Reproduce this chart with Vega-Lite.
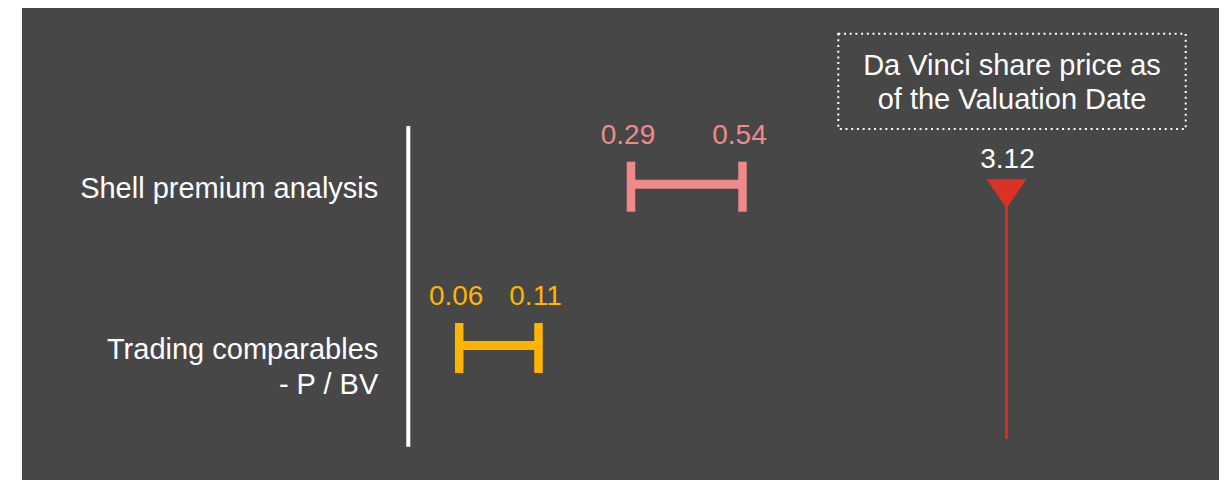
{
  "$schema": "https://vega.github.io/schema/vega-lite/v6.json",
  "width": 1197,
  "height": 472,
  "autosize": {"type": "none"},
  "padding": {"left": 22, "top": 8, "right": 6, "bottom": 0},
  "background": "white",
  "config": {
    "view": {"fill": "#474747", "stroke": null},
    "font": "Liberation Sans",
    "text": {"font": "Liberation Sans"}
  },
  "datasets": {
    "ranges": [
      {"method": "Shell premium analysis", "label": "Shell premium analysis", "low": 0.29, "high": 0.54},
      {"method": "Trading comparables - P / BV", "label": "Trading comparables\n- P / BV", "low": 0.06, "high": 0.11}
    ],
    "price": [
      {"method": "Shell premium analysis", "price": 3.12, "note": "Da Vinci share price as\nof the Valuation Date"}
    ]
  },
  "layer": [
    {
      "data": {"values": [{}]},
      "mark": {"type": "rule", "color": "white", "strokeWidth": 4, "yOffset": -60.7, "y2Offset": 98.7},
      "encoding": {
        "x": {"datum": 0, "type": "quantitative", "axis": null, "scale": {"type": "linear", "domain": [0, 0.06, 0.11, 0.29, 0.54, 3.12], "range": [386.3, 437.2, 516.5, 609, 720.5, 984.5], "zero": false, "nice": false}},
        "y": {"datum": "Shell premium analysis", "type": "nominal", "axis": null, "scale": {"type": "point", "domain": ["Shell premium analysis", "Trading comparables - P / BV"], "range": [178.7, 340], "padding": 0}},
        "y2": {"datum": "Trading comparables - P / BV"}
      }
    },
    {
      "data": {"name": "ranges"},
      "layer": [
        {
          "mark": {"type": "rule", "strokeWidth": 9, "strokeCap": "butt", "yOffset": -2.5},
          "encoding": {
            "x": {"field": "low", "type": "quantitative", "axis": null, "scale": {"type": "linear", "domain": [0, 0.06, 0.11, 0.29, 0.54, 3.12], "range": [386.3, 437.2, 516.5, 609, 720.5, 984.5], "zero": false, "nice": false}},
            "x2": {"field": "high"},
            "y": {"field": "method", "type": "nominal", "axis": null, "scale": {"type": "point", "domain": ["Shell premium analysis", "Trading comparables - P / BV"], "range": [178.7, 340], "padding": 0}},
            "color": {"field": "method", "type": "nominal", "legend": null, "scale": {"domain": ["Shell premium analysis", "Trading comparables - P / BV"], "range": ["#ee8a8a", "#ffb400"]}}
          }
        },
        {
          "mark": {"type": "tick", "size": 50, "thickness": 8.5, "opacity": 1},
          "encoding": {
            "x": {"field": "low", "type": "quantitative", "axis": null, "scale": {"type": "linear", "domain": [0, 0.06, 0.11, 0.29, 0.54, 3.12], "range": [386.3, 437.2, 516.5, 609, 720.5, 984.5], "zero": false, "nice": false}},
            "y": {"field": "method", "type": "nominal", "axis": null, "scale": {"type": "point", "domain": ["Shell premium analysis", "Trading comparables - P / BV"], "range": [178.7, 340], "padding": 0}},
            "color": {"field": "method", "type": "nominal", "legend": null, "scale": {"domain": ["Shell premium analysis", "Trading comparables - P / BV"], "range": ["#ee8a8a", "#ffb400"]}}
          }
        },
        {
          "mark": {"type": "tick", "size": 50, "thickness": 8.5, "opacity": 1},
          "encoding": {
            "x": {"field": "high", "type": "quantitative", "axis": null, "scale": {"type": "linear", "domain": [0, 0.06, 0.11, 0.29, 0.54, 3.12], "range": [386.3, 437.2, 516.5, 609, 720.5, 984.5], "zero": false, "nice": false}},
            "y": {"field": "method", "type": "nominal", "axis": null, "scale": {"type": "point", "domain": ["Shell premium analysis", "Trading comparables - P / BV"], "range": [178.7, 340], "padding": 0}},
            "color": {"field": "method", "type": "nominal", "legend": null, "scale": {"domain": ["Shell premium analysis", "Trading comparables - P / BV"], "range": ["#ee8a8a", "#ffb400"]}}
          }
        },
        {
          "mark": {"type": "text", "fontSize": 28, "align": "center", "baseline": "alphabetic", "dy": -43, "dx": -3},
          "encoding": {
            "x": {"field": "low", "type": "quantitative", "axis": null, "scale": {"type": "linear", "domain": [0, 0.06, 0.11, 0.29, 0.54, 3.12], "range": [386.3, 437.2, 516.5, 609, 720.5, 984.5], "zero": false, "nice": false}},
            "y": {"field": "method", "type": "nominal", "axis": null, "scale": {"type": "point", "domain": ["Shell premium analysis", "Trading comparables - P / BV"], "range": [178.7, 340], "padding": 0}},
            "text": {"field": "low", "type": "quantitative", "format": ".2f"},
            "color": {"field": "method", "type": "nominal", "legend": null, "scale": {"domain": ["Shell premium analysis", "Trading comparables - P / BV"], "range": ["#ee8a8a", "#ffb400"]}}
          }
        },
        {
          "mark": {"type": "text", "fontSize": 28, "align": "center", "baseline": "alphabetic", "dy": -43, "dx": -3},
          "encoding": {
            "x": {"field": "high", "type": "quantitative", "axis": null, "scale": {"type": "linear", "domain": [0, 0.06, 0.11, 0.29, 0.54, 3.12], "range": [386.3, 437.2, 516.5, 609, 720.5, 984.5], "zero": false, "nice": false}},
            "y": {"field": "method", "type": "nominal", "axis": null, "scale": {"type": "point", "domain": ["Shell premium analysis", "Trading comparables - P / BV"], "range": [178.7, 340], "padding": 0}},
            "text": {"field": "high", "type": "quantitative", "format": ".2f"},
            "color": {"field": "method", "type": "nominal", "legend": null, "scale": {"domain": ["Shell premium analysis", "Trading comparables - P / BV"], "range": ["#ee8a8a", "#ffb400"]}}
          }
        },
        {
          "mark": {"type": "text", "fontSize": 29, "align": "right", "baseline": "alphabetic", "dy": 11, "dx": -30, "lineBreak": "\n", "lineHeight": 35, "color": "white"},
          "encoding": {
            "x": {"datum": 0, "type": "quantitative", "axis": null, "scale": {"type": "linear", "domain": [0, 0.06, 0.11, 0.29, 0.54, 3.12], "range": [386.3, 437.2, 516.5, 609, 720.5, 984.5], "zero": false, "nice": false}},
            "y": {"field": "method", "type": "nominal", "axis": null, "scale": {"type": "point", "domain": ["Shell premium analysis", "Trading comparables - P / BV"], "range": [178.7, 340], "padding": 0}},
            "text": {"field": "label", "type": "nominal"}
          }
        }
      ]
    },
    {
      "data": {"name": "price"},
      "layer": [
        {
          "mark": {"type": "rule", "color": "#dc3223", "strokeWidth": 2.5, "y2Offset": 91},
          "encoding": {
            "x": {"field": "price", "type": "quantitative", "axis": null, "scale": {"type": "linear", "domain": [0, 0.06, 0.11, 0.29, 0.54, 3.12], "range": [386.3, 437.2, 516.5, 609, 720.5, 984.5], "zero": false, "nice": false}},
            "y": {"field": "method", "type": "nominal", "axis": null, "scale": {"type": "point", "domain": ["Shell premium analysis", "Trading comparables - P / BV"], "range": [178.7, 340], "padding": 0}},
            "y2": {"datum": "Trading comparables - P / BV"}
          }
        },
        {
          "mark": {"type": "point", "shape": "M-1,-0.725L1,-0.725L0,0.725Z", "size": 1600, "filled": true, "color": "#dc3223", "opacity": 1, "strokeWidth": 0, "yOffset": 7},
          "encoding": {
            "x": {"field": "price", "type": "quantitative", "axis": null, "scale": {"type": "linear", "domain": [0, 0.06, 0.11, 0.29, 0.54, 3.12], "range": [386.3, 437.2, 516.5, 609, 720.5, 984.5], "zero": false, "nice": false}},
            "y": {"field": "method", "type": "nominal", "axis": null, "scale": {"type": "point", "domain": ["Shell premium analysis", "Trading comparables - P / BV"], "range": [178.7, 340], "padding": 0}}
          }
        },
        {
          "mark": {"type": "text", "fontSize": 28, "align": "center", "baseline": "alphabetic", "dy": -18.7, "dx": 1, "color": "white"},
          "encoding": {
            "x": {"field": "price", "type": "quantitative", "axis": null, "scale": {"type": "linear", "domain": [0, 0.06, 0.11, 0.29, 0.54, 3.12], "range": [386.3, 437.2, 516.5, 609, 720.5, 984.5], "zero": false, "nice": false}},
            "y": {"field": "method", "type": "nominal", "axis": null, "scale": {"type": "point", "domain": ["Shell premium analysis", "Trading comparables - P / BV"], "range": [178.7, 340], "padding": 0}},
            "text": {"field": "price", "type": "quantitative", "format": ".2f"}
          }
        },
        {
          "mark": {"type": "rect", "fillOpacity": 0, "stroke": "white", "strokeWidth": 2, "strokeDash": [2, 3.7], "xOffset": -168.2, "x2Offset": 179.2, "yOffset": -153, "y2Offset": -57.7},
          "encoding": {
            "x": {"field": "price", "type": "quantitative", "axis": null, "scale": {"type": "linear", "domain": [0, 0.06, 0.11, 0.29, 0.54, 3.12], "range": [386.3, 437.2, 516.5, 609, 720.5, 984.5], "zero": false, "nice": false}},
            "x2": {"field": "price"},
            "y": {"field": "method", "type": "nominal", "axis": null, "scale": {"type": "point", "domain": ["Shell premium analysis", "Trading comparables - P / BV"], "range": [178.7, 340], "padding": 0}},
            "y2": {"field": "method"}
          }
        },
        {
          "mark": {"type": "text", "fontSize": 29, "align": "center", "baseline": "alphabetic", "dy": -111.7, "dx": 5.5, "lineBreak": "\n", "lineHeight": 34, "color": "white"},
          "encoding": {
            "x": {"field": "price", "type": "quantitative", "axis": null, "scale": {"type": "linear", "domain": [0, 0.06, 0.11, 0.29, 0.54, 3.12], "range": [386.3, 437.2, 516.5, 609, 720.5, 984.5], "zero": false, "nice": false}},
            "y": {"field": "method", "type": "nominal", "axis": null, "scale": {"type": "point", "domain": ["Shell premium analysis", "Trading comparables - P / BV"], "range": [178.7, 340], "padding": 0}},
            "text": {"field": "note", "type": "nominal"}
          }
        }
      ]
    }
  ]
}
